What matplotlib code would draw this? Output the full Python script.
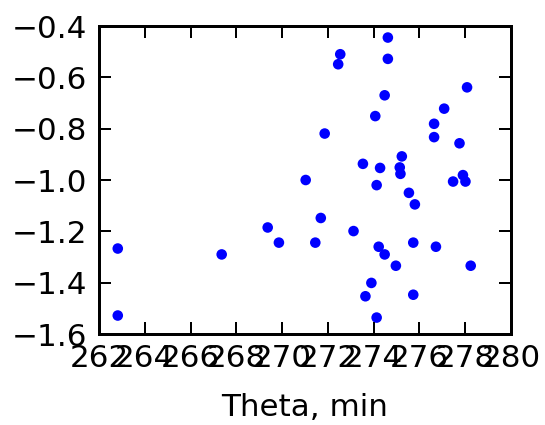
import matplotlib
matplotlib.use("Agg")
import matplotlib.pyplot as plt

# theta in minutes and the measured value for each sample
theta = [262.82, 262.82, 267.36, 269.37, 269.86, 271.03,
         274.62, 272.54, 272.45, 274.62, 278.08, 274.48, 277.08, 274.07,
         276.64, 271.86, 276.64, 277.75, 275.23, 273.53, 274.28, 275.14,
         275.17, 277.90, 277.47, 278.01, 274.13, 275.54, 275.80, 271.69,
         273.12, 271.45, 275.73, 274.22, 276.72, 274.48, 274.97, 278.24,
         273.90, 273.64, 275.73, 274.13]
value = [-1.267, -1.528, -1.290, -1.185, -1.244, -1.000,
         -0.445, -0.510, -0.549, -0.528, -0.639, -0.670, -0.722, -0.751,
         -0.781, -0.819, -0.833, -0.857, -0.908, -0.937, -0.953, -0.951,
         -0.976, -0.981, -1.006, -1.006, -1.020, -1.050, -1.095, -1.148,
         -1.199, -1.244, -1.244, -1.260, -1.260, -1.290, -1.334, -1.334,
         -1.401, -1.453, -1.447, -1.536]

x_ticks = list(range(262, 281, 2))
y_ticks = [-1.6, -1.4, -1.2, -1.0, -0.8, -0.6, -0.4]

dpi = 144
fig = plt.figure(figsize=(545 / dpi, 425 / dpi), dpi=dpi)
ax = fig.add_axes([99 / 545, 1 - 334 / 425, 412 / 545, 308 / 425])

ax.scatter(theta, value, s=28, c="blue", edgecolors="none")

ax.set_xlim(262, 280)
ax.set_ylim(-1.6, -0.4)
ax.set_xticks(x_ticks)
ax.set_yticks(y_ticks)
ax.tick_params(direction="in", top=True, right=True, length=6, width=1,
               labelsize=15.5)
ax.tick_params(axis="x", pad=5)
ax.tick_params(axis="y", pad=6)
for sp in ax.spines.values():
    sp.set_linewidth(1.5)
ax.set_xlabel("Theta, min", fontsize=15.5, labelpad=10)

fig.savefig("out.png", dpi=dpi)
